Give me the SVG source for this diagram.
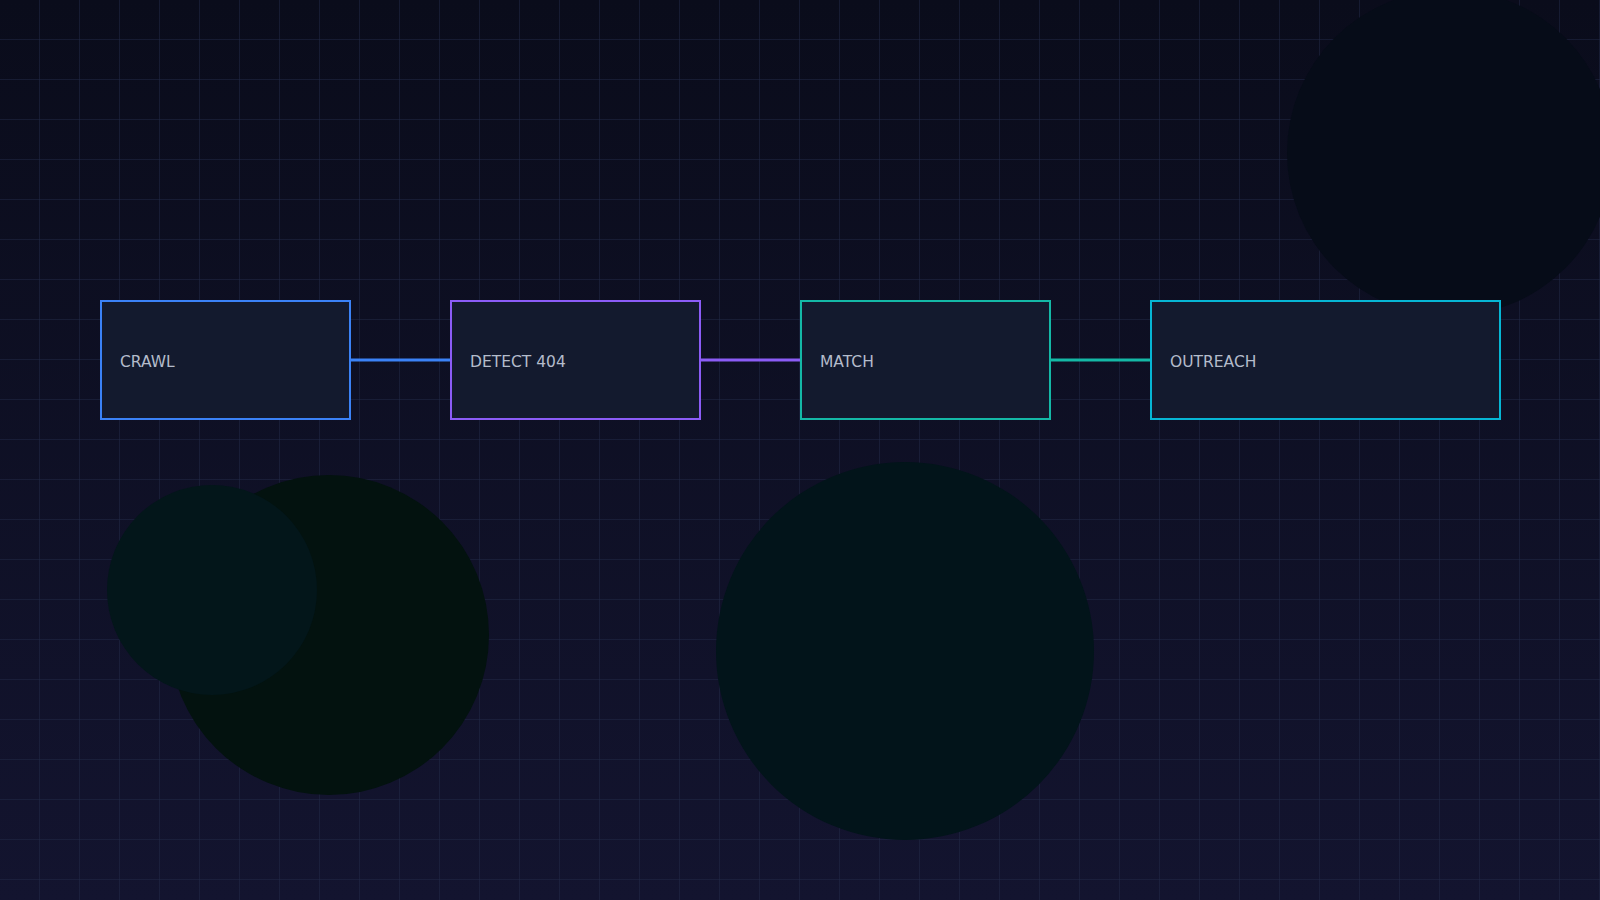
<svg xmlns="http://www.w3.org/2000/svg" width="1600" height="900" viewBox="0 0 1600 900">
<defs>
<linearGradient id="bg" x1="0" y1="0" x2="0" y2="1"><stop offset="0" stop-color="#0a0c1b"/><stop offset="1" stop-color="#13142f"/></linearGradient>
<pattern id="grid" width="40" height="40" patternUnits="userSpaceOnUse"><path d="M40 0V40M0 40H40" fill="none" stroke="#222a47" stroke-width="1"/></pattern>
<style>
.box{fill:#131a2e;stroke-width:2}
.lbl{font-family:"DejaVu Sans",sans-serif;font-size:15.5px;fill:#b4bccb;dominant-baseline:middle}
.c{stroke-width:3;fill:none}
</style>
</defs>
<rect width="1600" height="900" fill="url(#bg)"/>
<rect width="1600" height="900" fill="url(#grid)"/>
<circle cx="1450" cy="153" r="163" fill="#060c18"/>
<circle cx="329" cy="635" r="160" fill="#03120f"/>
<circle cx="212" cy="590" r="105" fill="#03161a"/>
<circle cx="905" cy="651" r="189" fill="#02141a"/>
<g id="connectors">
<line class="c" x1="350" y1="360" x2="450" y2="360" stroke="#3b82f6"/>
<line class="c" x1="700" y1="360" x2="800" y2="360" stroke="#8b5cf6"/>
<line class="c" x1="1050" y1="360" x2="1150" y2="360" stroke="#14b8a6"/>
</g>
<g id="crawl"><rect class="box" x="101" y="301" width="249" height="118" stroke="#3b82f6"/><text class="lbl" x="120" y="362">CRAWL</text></g>
<g id="detect"><rect class="box" x="451" y="301" width="249" height="118" stroke="#8b5cf6"/><text class="lbl" x="470" y="362">DETECT 404</text></g>
<g id="match"><rect class="box" x="801" y="301" width="249" height="118" stroke="#14b8a6"/><text class="lbl" x="820" y="362">MATCH</text></g>
<g id="outreach"><rect class="box" x="1151" y="301" width="349" height="118" stroke="#06b6d4"/><text class="lbl" x="1170" y="362">OUTREACH</text></g>
</svg>
